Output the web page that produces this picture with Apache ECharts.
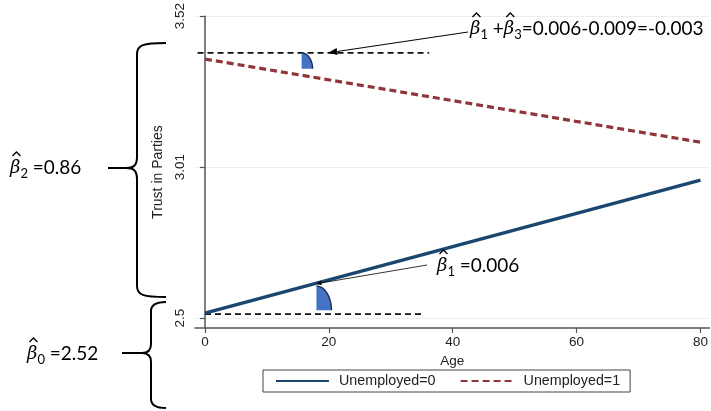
<!DOCTYPE html>
<html><head><meta charset="utf-8">
<script src="https://cdn.jsdelivr.net/npm/echarts@6/dist/echarts.min.js"></script>
<style>html,body{margin:0;padding:0;background:#fff}#c{width:711px;height:411px}</style>
</head><body><div id="c"></div>
<script>
// ---- data ----
const seriesNames = ['Unemployed=0', 'Unemployed=1'];
const ages = [0, 80];
const unemployed0 = [2.517, 2.966];
const unemployed1 = [3.375, 3.094];
const refAges0 = [0, 35.4];
const refLevel0 = [2.513, 2.513];
const refAges1 = [-1.2, 36.2];
const refLevel1 = [3.396, 3.396];
const xTicks = [0, 20, 40, 60, 80];
const yTicks = [2.5, 3.01, 3.52];
const wedgeAges = [18.0, 15.6];
const wedgeBase = [2.526, 3.342];
const wedgeTop = [2.608, 3.396];

const chart = echarts.init(document.getElementById('c'), null, {renderer: 'canvas'});
const axisFont = 'Liberation Sans, Arial, sans-serif';
const wedgeWidthPx = [15, 11];

function pairs(xs, ys) { return xs.map((x, i) => [x, ys[i]]); }

const option = {
  animation: false,
  backgroundColor: '#fff',
  grid: {left: 195, right: 0, top: 14, bottom: 83},
  xAxis: {
    type: 'value', min: -1.61, max: 81.45,
    axisLine: {show: true, onZero: false, lineStyle: {color: '#555', width: 1.5}},
    axisTick: {show: true, customValues: xTicks, length: 5, lineStyle: {color: '#555', width: 1.2}},
    axisLabel: {customValues: xTicks, fontSize: 13.5, color: '#222', margin: 7, fontFamily: axisFont},
    splitLine: {show: false},
    name: 'Age', nameLocation: 'middle', nameGap: 22,
    nameTextStyle: {fontSize: 13.5, color: '#222', fontFamily: axisFont}
  },
  yAxis: {
    type: 'value', min: 2.4664, max: 3.52,
    axisLine: {show: true, lineStyle: {color: '#555', width: 1.5}},
    axisTick: {show: true, customValues: yTicks, length: 5, lineStyle: {color: '#555', width: 1.2}},
    axisLabel: {customValues: yTicks, rotate: 90, fontSize: 13.5, color: '#222', margin: 8, fontFamily: axisFont},
    splitLine: {show: true, lineStyle: {color: '#e9eef2', width: 1}},
    name: 'Trust in Parties', nameLocation: 'middle', nameGap: 25,
    nameTextStyle: {fontSize: 14, color: '#222', fontFamily: axisFont}
  },
  legend: {
    data: seriesNames, left: 263, top: 370, orient: 'horizontal',
    borderColor: '#444', borderWidth: 1, padding: [4, 10, 4, 12],
    itemWidth: 53, itemHeight: 12, itemGap: 24,
    itemStyle: {opacity: 0},
    textStyle: {fontSize: 14.3, color: '#222', fontFamily: axisFont, padding: [0, 0, 0, 5]}
  },
  series: [
    {name: seriesNames[0], type: 'line', data: pairs(ages, unemployed0), symbol: 'none', silent: true,
     lineStyle: {color: '#1a476f', width: 3.4}, itemStyle: {color: '#1a476f'}, z: 3},
    {name: seriesNames[1], type: 'line', data: pairs(ages, unemployed1), symbol: 'none', silent: true,
     lineStyle: {color: '#90353b', width: 3.2, type: [7, 4]}, itemStyle: {color: '#90353b'}, z: 3},
    {name: 'ref0', type: 'line', data: pairs(refAges0, refLevel0), symbol: 'none', silent: true,
     lineStyle: {color: '#111', width: 1.8, type: [6, 4]}, z: 2},
    {name: 'ref1', type: 'line', data: pairs(refAges1, refLevel1), symbol: 'none', silent: true,
     lineStyle: {color: '#111', width: 1.8, type: [6, 4]}, z: 4},
    {name: 'wedges', type: 'custom', silent: true, z: 5,
     data: wedgeAges.map((a, i) => [a, wedgeBase[i], wedgeTop[i], i]),
     renderItem: function (params, api) {
       const p = api.coord([api.value(0), api.value(1)]);
       const t = api.coord([api.value(0), api.value(2)]);
       const ry = p[1] - t[1];
       const rx = wedgeWidthPx[api.value(3)];
       const arc = [];
       for (let k = 0; k <= 24; k++) {
         const th = Math.PI / 2 * k / 24;
         arc.push([p[0] + rx * Math.sin(th), p[1] - ry * Math.cos(th)]);
       }
       return {type: 'group', children: [
         {type: 'polygon', shape: {points: [p].concat(arc)}, style: {fill: '#4472c4', stroke: null}},
         {type: 'polyline', shape: {points: arc}, style: {stroke: '#1f2f4f', lineWidth: 1.4, fill: null}}
       ]};
     }}
  ]
};
chart.setOption(option);

// ---- annotations ----
const mathFont = 'DejaVu Serif, serif';
const txtFont = 'Lato, Open Sans, sans-serif';
const tokenStyles = {
  b: {fontFamily: mathFont, fontStyle: 'italic', fontSize: 18, fill: '#000', lineHeight: 24, verticalAlign: 'middle'},
  s: {fontFamily: txtFont, fontSize: 13, fill: '#000', lineHeight: 14, verticalAlign: 'bottom'},
  t: {fontFamily: txtFont, fontSize: 19, fill: '#000', lineHeight: 24, verticalAlign: 'middle'}
};
const mctx = document.createElement('canvas').getContext('2d');
function measure(tok, str) {
  const s = tokenStyles[tok];
  mctx.font = (s.fontStyle || 'normal') + ' ' + s.fontSize + 'px ' + s.fontFamily;
  return mctx.measureText(str).width;
}
// tokens: list of [style, text]
function label(x, y, tokens) {
  const out = [];
  const text = tokens.map(t => '{' + t[0] + '|' + t[1] + '}').join('');
  out.push({type: 'text', x: x, y: y, silent: true, z: 10,
    style: {text: text, rich: tokenStyles, align: 'left', verticalAlign: 'middle', fill: '#000'}});
  let cx = x;
  tokens.forEach(t => {
    const w = measure(t[0], t[1]);
    if (t[0] === 'b') {
      const hx = cx + w * 0.62;
      out.push({type: 'polyline', silent: true, z: 10,
        shape: {points: [[hx - 4, y - 12], [hx, y - 16], [hx + 4, y - 12]]},
        style: {stroke: '#000', lineWidth: 1.3, fill: null}});
    }
    cx += w;
  });
  return out;
}
function arrow(start, end, headLen, headW, lw) {
  const dx = end[0] - start[0], dy = end[1] - start[1];
  const L = Math.hypot(dx, dy), ux = dx / L, uy = dy / L;
  const bx = end[0] - ux * headLen, by = end[1] - uy * headLen;
  return [
    {type: 'line', shape: {x1: start[0], y1: start[1], x2: bx, y2: by}, style: {stroke: '#000', lineWidth: lw}, silent: true, z: 10},
    {type: 'polygon', shape: {points: [end, [bx - uy * headW, by + ux * headW], [bx + uy * headW, by - ux * headW]]},
     style: {fill: '#000'}, silent: true, z: 10}
  ];
}
function brace(xo, xi, xt, yTop, yMid, yBot, r) {
  const st = {stroke: '#000', lineWidth: 2, fill: null};
  const mk = (shape, type) => ({type: type, shape: shape, style: st, silent: true, z: 10});
  return [
    mk({x1: xo, y1: yTop, cpx1: xi + 6, cpy1: yTop, cpx2: xi, cpy2: yTop + 2, x2: xi, y2: yTop + r}, 'bezierCurve'),
    mk({x1: xi, y1: yTop + r, x2: xi, y2: yMid - r}, 'line'),
    mk({x1: xi, y1: yMid - r, cpx1: xi, cpy1: yMid - 2, cpx2: xi - 4, cpy2: yMid, x2: xi - r, y2: yMid}, 'bezierCurve'),
    mk({x1: xi - r, y1: yMid, x2: xt, y2: yMid}, 'line'),
    mk({x1: xi, y1: yMid + r, cpx1: xi, cpy1: yMid + 2, cpx2: xi - 4, cpy2: yMid, x2: xi - r, y2: yMid}, 'bezierCurve'),
    mk({x1: xi, y1: yMid + r, x2: xi, y2: yBot - r}, 'line'),
    mk({x1: xo, y1: yBot, cpx1: xi + 6, cpy1: yBot, cpx2: xi, cpy2: yBot - 2, x2: xi, y2: yBot - r}, 'bezierCurve')
  ];
}
const topEnd = chart.convertToPixel({gridIndex: 0}, [19.9, refLevel1[0]]);
const lowEnd = chart.convertToPixel({gridIndex: 0}, [wedgeAges[0], wedgeTop[0] + 0.008]);
const elements = []
  .concat(brace(166, 137, 108, 43, 168, 297, 11))
  .concat(brace(166, 151, 122, 302, 353, 408, 9))
  .concat(arrow([468, 32], topEnd, 9, 3.5, 1))
  .concat(arrow([427, 265], lowEnd, 5, 2.5, 0.8))
  .concat(label(470, 29, [['b', 'β'], ['s', '1'], ['t', ' +'], ['b', 'β'], ['s', '3'], ['t', '=0.006-0.009=-0.003']]))
  .concat(label(437, 266, [['b', 'β'], ['s', '1'], ['t', ' =0.006']]))
  .concat(label(10, 168, [['b', 'β'], ['s', '2'], ['t', ' =0.86']]))
  .concat(label(27, 354, [['b', 'β'], ['s', '0'], ['t', ' =2.52']]));
chart.setOption({graphic: {elements: elements}});
</script>
</body></html>
